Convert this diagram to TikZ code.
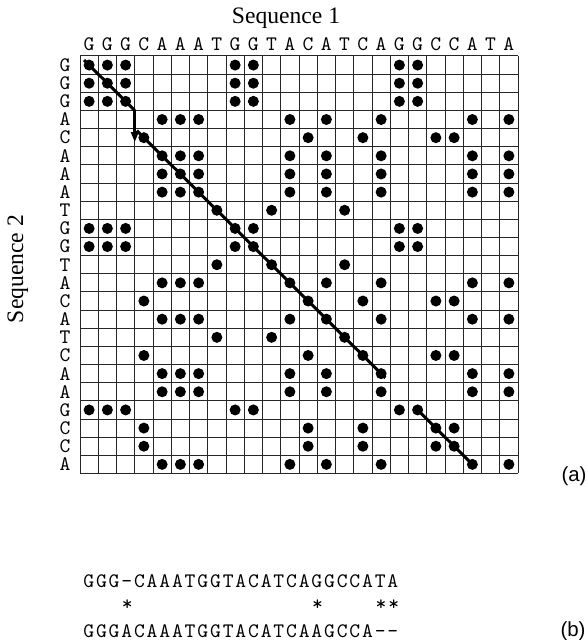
\documentclass[tikz,border=0pt]{standalone}
\usepackage{fontspec}
\setmainfont{Liberation Serif}
\setsansfont{Liberation Sans}
\newfontfamily\seqfont{lmmono10-regular.otf}
\newfontfamily\alnfont{lmmono10-regular.otf}[LetterSpace=9.0]
\usetikzlibrary{arrows.meta}

\begin{document}
\begin{tikzpicture}[x=0.5pt, y=-0.5pt,
  every node/.style={inner sep=0pt},
  base/.style={font=\seqfont\fontsize{10.3}{11}\selectfont},
  aln/.style={font=\alnfont\fontsize{10.3}{11}\selectfont, anchor=base west},
  title/.style={font=\fontsize{11.8}{14}\selectfont, anchor=base},
  tag/.style={font=\sffamily\fontsize{10.2}{12}\selectfont, anchor=base},
  cell/.style={draw=black!85, line width=0.5pt},
  hit/.style={circle, fill, minimum size=5.5pt},
  trace/.style={line width=1.5pt}]
\useasboundingbox (0,0) rectangle (586,640);
\def\cw{18.25}\def\ch{18.15}
\foreach \k in {0,...,24}
  \draw[cell] ({80+\k*\cw},56) -- ({80+\k*\cw},{56+23*\ch});
\foreach \k in {0,...,23}
  \draw[cell] (80,{56+\k*\ch}) -- ({80+24*\cw},{56+\k*\ch});
\foreach \sa [count=\j] in {G,G,G,C,A,A,A,T,G,G,T,A,C,A,T,C,A,G,G,C,C,A,T,A}
  \node[base] (c\j) at ({80+(\j-0.5)*\cw},44) {\sa};
\foreach \sb [count=\i] in {G,G,G,A,C,A,A,A,T,G,G,T,A,C,A,T,C,A,A,G,C,C,A}
  \node[base] (r\i) at (65,{56+(\i-0.5)*\ch}) {\sb};
\foreach \sb [count=\i] in {G,G,G,A,C,A,A,A,T,G,G,T,A,C,A,T,C,A,A,G,C,C,A}
  \foreach \sa [count=\j] in {G,G,G,C,A,A,A,T,G,G,T,A,C,A,T,C,A,G,G,C,C,A,T,A}
    {\ifx\sa\sb\ifnum\j=23\else
      \node[hit] (d-\i-\j) at ({80+(\j-0.5)*\cw},{56+(\i-0.5)*\ch}) {};
    \fi\fi}
\node[title] (s1) at (286,23.5) {Sequence 1};
\node[title, rotate=90] (s2) at (23,269) {Sequence 2};
\coordinate (turn) at ({80+3*\cw},{56+3*\ch});
\coordinate (drop) at ({80+3*\cw},{56+4.75*\ch});
\draw[trace, shorten <=-3.6pt] (d-1-1.center) -- (turn);
\draw[trace, -{Triangle[length=5pt, width=3.6pt]}] (turn) -- (drop);
\draw[trace, shorten <=-5pt, shorten >=-3pt] (d-5-4.center) -- (d-18-17.center);
\draw[trace, shorten <=-2.2pt, shorten >=-1.5pt] (d-20-19.center) -- (d-23-22.center);
\node[tag] (pa) at (574,481) {(a)};
\node[aln] (a1) at (83,587) {GGG-CAAATGGTACATCAGGCCATA};
\foreach \k in {4,19,24,25}
  \node[base, anchor=base] (m\k) at ({83+(\k-0.5)*12.68},610) {*};
\node[aln] (a2) at (83,637) {GGGACAAATGGTACATCAAGCCA-{}-};
\node[tag] (pb) at (573,636) {(b)};
\end{tikzpicture}
\end{document}
